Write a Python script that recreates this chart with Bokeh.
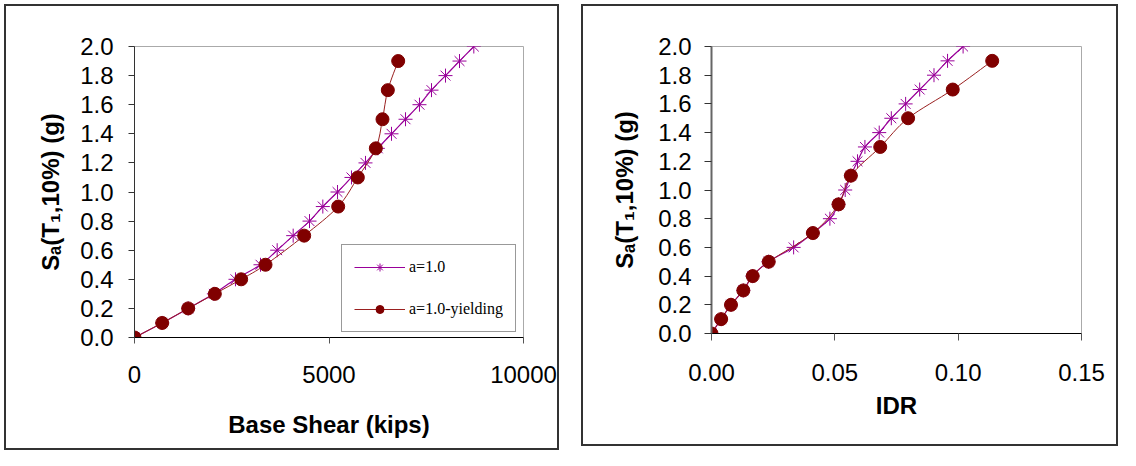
import numpy as np
from bokeh.plotting import figure
from bokeh.models import Range1d, FixedTicker, NumeralTickFormatter, Legend, LegendItem
from bokeh.layouts import row
from bokeh.embed import file_html
from bokeh.resources import INLINE

# ---- data ----
sa_elastic = [0.0, 0.1, 0.2, 0.3, 0.4, 0.5, 0.6, 0.7, 0.8, 0.9, 1.0,
              1.1, 1.2, 1.3, 1.4, 1.5, 1.6, 1.7, 1.8, 1.9, 2.0]
shear_elastic = [0, 712, 1380, 2040, 2596, 3239, 3668, 4079, 4499, 4841, 5219,
                 5578, 5938, 6255, 6607, 6967, 7326, 7635, 7995, 8355, 8723]
idr_elastic = [0.0, 0.0039, 0.0079, 0.0129, 0.0166, 0.0231, 0.0333, 0.0411, 0.0480, 0.0515, 0.0542,
               0.0565, 0.0592, 0.0622, 0.0680, 0.0729, 0.0787, 0.0844, 0.0902, 0.0957, 0.1020]

sa_yield = [0.0, 0.1, 0.2, 0.3, 0.4, 0.5, 0.7, 0.9, 1.1, 1.3, 1.5, 1.7, 1.9]
shear_yield = [0, 712, 1380, 2065, 2742, 3368, 4362, 5236, 5741, 6204, 6375, 6512, 6779]
idr_yield = [0.0, 0.0039, 0.0079, 0.0129, 0.0167, 0.0232, 0.0411, 0.0515, 0.0565, 0.0684, 0.0797, 0.0978, 0.1138]

label_elastic = "a=1.0"
label_yield = "a=1.0-yielding"
y_ticks = [0.0, 0.2, 0.4, 0.6, 0.8, 1.0, 1.2, 1.4, 1.6, 1.8, 2.0]
x_ticks_shear = [0, 5000, 10000]
x_ticks_idr = [0.0, 0.05, 0.10, 0.15]
y_title = "Sₐ(T₁,10%) (g)"

PURPLE = "#990099"
DARKRED = "#800000"
REDLINE = "#9a2020"


def smooth_segments(xs, ys):
    """Catmull-Rom (Excel-like) smoothing expressed as cubic Bezier control points."""
    x = np.asarray(xs, float)
    y = np.asarray(ys, float)
    n = len(x)
    xp = np.concatenate([[x[0]], x, [x[-1]]])
    yp = np.concatenate([[y[0]], y, [y[-1]]])
    return dict(
        x0=x[:-1], y0=y[:-1], x1=x[1:], y1=y[1:],
        cx0=x[:-1] + (xp[2:n + 1] - xp[0:n - 1]) / 6.0,
        cy0=y[:-1] + (yp[2:n + 1] - yp[0:n - 1]) / 6.0,
        cx1=x[1:] - (xp[3:n + 2] - xp[1:n]) / 6.0,
        cy1=y[1:] - (yp[3:n + 2] - yp[1:n]) / 6.0,
    )


def make_panel(xr, xticks, xfmt, xtitle, width, height, borders, margin, tick_out, lab_standoff,
               x_title_standoff, y_axis_color, y_axis_width, x_lab_standoff, y_title_standoff):
    p = figure(width=width, height=height, output_backend="svg", toolbar_location=None,
               x_range=Range1d(*xr), y_range=Range1d(0, 2.0),
               min_border_left=borders[0], min_border_right=borders[1],
               min_border_top=borders[2], min_border_bottom=borders[3])
    p.margin = margin
    # chart-area border drawn by the host element (canvas made transparent outside the frame)
    p.styles = {"box-shadow": "inset 0 0 0 2px #333333", "background-color": "white"}
    p.grid.visible = False
    p.background_fill_color = "white"
    p.border_fill_alpha = 0
    p.outline_line_color = "#aaaaaa"
    p.outline_line_width = 1

    xa = p.xaxis[0]
    xa.ticker = FixedTicker(ticks=xticks)
    xa.formatter = NumeralTickFormatter(format=xfmt)
    xa.axis_label = xtitle
    xa.axis_line_color = "black"
    xa.axis_line_width = 1
    xa.major_tick_line_color = "#555555"
    xa.major_tick_in = 0
    xa.major_tick_out = tick_out
    xa.minor_tick_line_color = None
    xa.major_label_standoff = x_lab_standoff
    xa.axis_label_standoff = x_title_standoff

    ya = p.yaxis[0]
    ya.ticker = FixedTicker(ticks=y_ticks)
    ya.formatter = NumeralTickFormatter(format="0.0")
    ya.axis_label = y_title
    ya.axis_line_color = y_axis_color
    ya.axis_line_width = y_axis_width
    ya.major_tick_line_color = "#333333"
    ya.major_tick_in = 0
    ya.major_tick_out = tick_out
    ya.minor_tick_line_color = None
    ya.major_label_standoff = lab_standoff
    ya.axis_label_standoff = y_title_standoff

    for ax in (xa, ya):
        ax.major_label_text_font = "Liberation Sans"
        ax.major_label_text_font_size = "24px"
        ax.major_label_text_color = "black"
        ax.axis_label_text_font = "Liberation Sans"
        ax.axis_label_text_font_size = "24px"
        ax.axis_label_text_font_style = "bold"
        ax.axis_label_text_color = "black"
    return p


def add_star_series(p, xs, ys):
    b = p.bezier(line_color=PURPLE, line_width=1.2, **smooth_segments(xs, ys))
    s = p.scatter(xs, ys, marker="asterisk", size=14, line_color=PURPLE, line_width=1)
    return [b, s]


def add_circle_series(p, xs, ys):
    b = p.bezier(line_color=REDLINE, line_width=1.0, **smooth_segments(xs, ys))
    s = p.scatter(xs, ys, marker="circle", size=13, line_color=DARKRED,
                  fill_color=DARKRED, line_width=1)
    return [b, s]


# ---- left panel: base shear ----
p1 = make_panel((0, 10000), x_ticks_shear, "0", "Base Shear (kips)", 555, 446,
                (130, 36, 42, 112), (4, 11, 0, 4), 6, 15, 25, "#333333", 1, 22, 13)
r_el = add_star_series(p1, shear_elastic, sa_elastic)
r_yi = add_circle_series(p1, shear_yield, sa_yield)

legend = Legend(items=[LegendItem(label=label_elastic, renderers=r_el),
                       LegendItem(label=label_yield, renderers=r_yi)],
                location=(207, 5))
legend.label_text_font = "Liberation Serif"
legend.label_text_font_size = "16px"
legend.label_text_color = "black"
legend.glyph_width = 51
legend.glyph_height = 20
legend.label_height = 20
legend.label_standoff = 4
legend.spacing = 22
legend.padding = 12
legend.margin = 0
legend.border_line_color = "#333333"
legend.border_line_width = 1
legend.background_fill_color = "white"
legend.background_fill_alpha = 1.0
p1.add_layout(legend)

# ---- right panel: IDR ----
p2 = make_panel((0, 0.15), x_ticks_idr, "0.00", "IDR", 537, 442,
                (130, 37, 42, 113), (4, 2, 0, 11), 7, 13, 8, "#666666", 2, 23, 17)
add_star_series(p2, idr_elastic, sa_elastic)
add_circle_series(p2, idr_yield, sa_yield)

layout = row(p1, p2, spacing=0)

with open("out.html", "w") as f:
    f.write(file_html(layout, INLINE))
